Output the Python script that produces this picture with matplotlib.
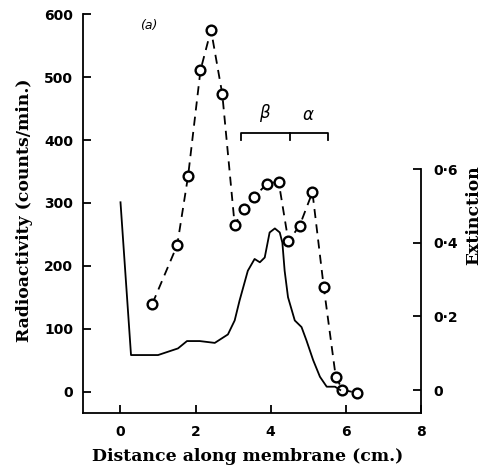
import numpy as np
import matplotlib
matplotlib.use("Agg")
import matplotlib.pyplot as plt

# radioactivity along the membrane (open circles, dashed)
dist_counts = [0.85, 1.51, 1.80, 2.13, 2.41, 2.71, 3.04, 3.29, 3.55, 3.89,
               4.21, 4.47, 4.77, 5.11, 5.41, 5.73, 5.91, 6.30]
counts = [140, 233, 343, 511, 575, 473, 265, 291, 309, 330,
          334, 239, 264, 317, 167, 24, 3, -2]

# extinction trace (solid line)
dist_ext = [0.0, 0.28, 1.0, 1.53, 1.77, 2.11, 2.51, 2.86, 3.04, 3.17,
            3.39, 3.57, 3.71, 3.84, 3.97, 4.11, 4.24, 4.31, 4.37, 4.46,
            4.64, 4.82, 4.95, 5.13, 5.31, 5.49, 5.71, 5.85]
extinction = [0.51, 0.095, 0.095, 0.113, 0.133, 0.133, 0.128, 0.151, 0.189, 0.243,
              0.324, 0.356, 0.347, 0.36, 0.428, 0.439, 0.428, 0.40, 0.324, 0.252,
              0.189, 0.171, 0.135, 0.081, 0.036, 0.009, 0.009, 0.0]

left_ticks = [0, 100, 200, 300, 400, 500, 600]
x_ticks = [0, 2, 4, 6, 8]
ext_ticks = [0, 0.2, 0.4, 0.6]
ext_labels = ['0', '0·2', '0·4', '0·6']

serif = 'DejaVu Serif'
sans = 'DejaVu Sans'

fig = plt.figure(figsize=(4.85, 4.73), dpi=100)
ax = fig.add_axes([0.171, 0.1275, 0.697, 0.8425])
ax2 = ax.twinx()

ax.set_xlim(-1, 8)
ax.set_ylim(-33.4, 600)
ax2.set_ylim(-0.0616, 1.021)

ax.plot(dist_counts, counts, color='black', lw=1.3, ls=(0, (5, 3.5)),
        marker='o', ms=7, mfc='white', mec='black', mew=1.7, zorder=3)
ax2.plot(dist_ext, extinction, color='black', lw=1.3)

# bracket marking the beta and alpha regions
bx = [3.22, 4.525, 5.53]
ax.plot([bx[0], bx[0], bx[2], bx[2]], [400, 411, 411, 400], color='black', lw=1.3)
ax.plot([bx[1], bx[1]], [400, 411], color='black', lw=1.3)
ax.text(3.86, 425, r'$\beta$', fontsize=12, ha='center', va='bottom')
ax.text(4.99, 425, r'$\alpha$', fontsize=12, ha='center', va='bottom')
ax.text(0.75, 582, '(a)', fontsize=9, style='italic', family=sans,
        ha='center', va='center')

for a in (ax, ax2):
    a.spines['top'].set_visible(False)
    for s in a.spines.values():
        s.set_linewidth(1.3)
ax.spines['right'].set_visible(False)
ax2.spines['left'].set_visible(False)
ax2.spines['bottom'].set_visible(False)
ax.spines['left'].set_bounds(-33.4, 600)
ax2.spines['right'].set_bounds(-0.0616, 0.6)

ax.set_xticks(x_ticks)
ax.set_yticks(left_ticks)
ax2.set_yticks(ext_ticks)
ax2.set_yticklabels(ext_labels)
ax.tick_params(direction='in', length=6, width=1.3, labelsize=10)
ax.tick_params(axis='x', pad=9)
ax.tick_params(axis='y', pad=7)
ax2.tick_params(direction='in', length=6, width=1.3, labelsize=10, pad=9)
for lab in ax.get_xticklabels() + ax.get_yticklabels() + ax2.get_yticklabels():
    lab.set_fontweight('bold')
    lab.set_family(sans)

# axis titles placed directly in figure coordinates
fig.text(0.511, 0.0345, 'Distance along membrane (cm.)', family=serif,
         fontweight='bold', fontsize=12.4, ha='center', va='center')
fig.text(0.0515, 0.556, 'Radioactivity (counts/min.)', family=serif,
         fontweight='bold', fontsize=12.4, rotation=90, ha='center', va='center')
fig.text(0.977, 0.545, 'Extinction', family=serif,
         fontweight='bold', fontsize=12.4, rotation=90, ha='center', va='center')

fig.savefig('out.png', dpi=100)
